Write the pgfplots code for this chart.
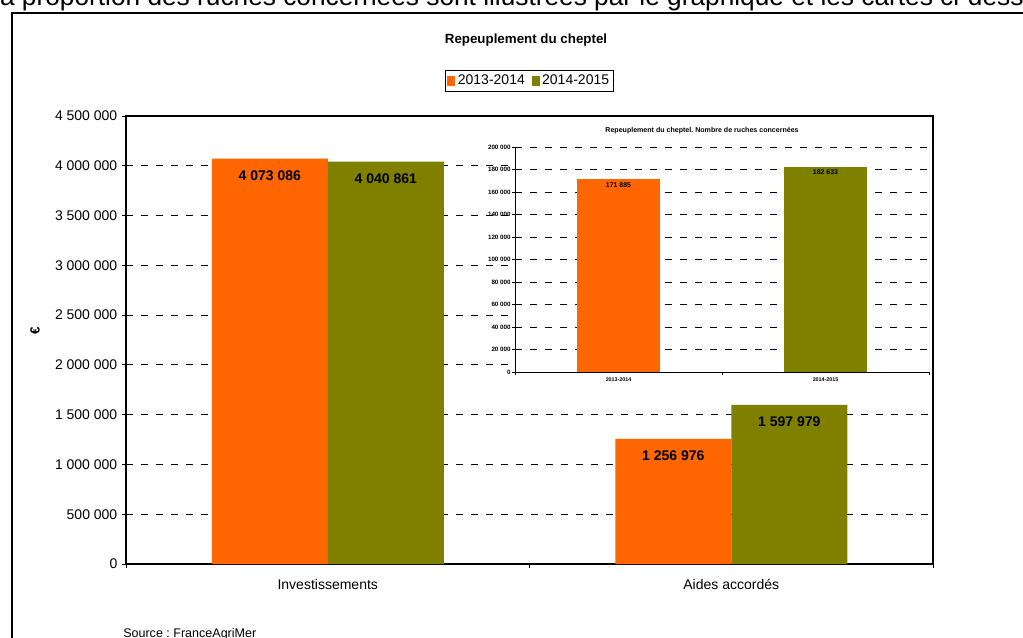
\documentclass[border=0pt]{standalone}
\usepackage{pgfplots}
\pgfplotsset{compat=1.18}
\usepackage{fontspec}
\setmainfont{Liberation Sans}
\frenchspacing
\definecolor{cOr}{HTML}{FF6600}
\definecolor{cOl}{HTML}{808000}
\begin{document}
\begin{tikzpicture}[x=0.75pt,y=0.75pt]
\path[use as bounding box] (0,0) rectangle (1023,637);
\clip (0,0) rectangle (1023,637);
\node[anchor=base west, inner sep=0, font=\fontsize{19.7}{24}\selectfont] at (-6,631.7) {la proportion des ruches concernées sont illustrées par le graphique et les cartes ci-dessous};
\draw[line width=1.3pt] (12,-20) -- (12,624.3) -- (1040,624.3);
\node[font=\bfseries\fontsize{10}{12}\selectfont] at (526,597) {Repeuplement du cheptel};
\node[font=\bfseries\fontsize{10}{12}\selectfont, rotate=90] at (35,306) {€};
\node[anchor=north west, inner sep=0, font=\fontsize{9.4}{11}\selectfont] at (123,9) {Source : FranceAgriMer};
\coordinate (mainSW) at (126,73);
\coordinate (insSW) at (515,265);
\begin{axis}[
 at={(mainSW)}, anchor=south west, scale only axis,
 width=605.25pt, height=336pt,
 ybar=0pt, bar width=87pt,
 xmin=-0.5, xmax=1.5, ymin=0, ymax=4500000,
 axis line style={black, line width=0.8pt},
 tick align=outside, major tick length=3pt,
 tick style={black, line width=0.75pt},
 xtick pos=lower, ytick pos=left,
 xtick={-0.5,0.5,1.5}, xticklabels={},
 extra x ticks={0,1}, extra x tick labels={Investissements,Aides accordés},
 extra x tick style={major tick length=0pt, xticklabel style={yshift=-8pt}},
 xticklabel style={font=\fontsize{10.5}{12}\selectfont},
 scaled y ticks=false,
 ytick={0,500000,1000000,1500000,2000000,2500000,3000000,3500000,4000000,4500000},
 yticklabels={0,500 000,1 000 000,1 500 000,2 000 000,2 500 000,3 000 000,3 500 000,4 000 000,4 500 000},
 yticklabel style={font=\fontsize{10.5}{12}\selectfont},
 ymajorgrids,
 major grid style={black, line width=0.75pt, dash pattern=on 5.25pt off 6pt},
 legend columns=2,
 legend style={at={(0.5,1.078)}, anchor=center, draw=black, line width=0.75pt,
   font=\fontsize{10.5}{12}\selectfont, inner sep=1.5pt,
   /tikz/every even column/.append style={column sep=3pt}},
 legend image code/.code={\fill[#1] (0pt,-3.5pt) rectangle (6pt,3.5pt);},
 nodes near coords, point meta=explicit symbolic,
 every node near coord/.append style={anchor=center, yshift=-12.75pt, font=\bfseries\fontsize{10.5}{12}\selectfont, black},
]
\addplot[fill=cOr, draw=none] coordinates {(0,4073086) [4 073 086] (1,1256976) [1 256 976]};
\addplot[fill=cOl, draw=none] coordinates {(0,4040861) [4 040 861] (1,1597979) [1 597 979]};
\legend{2013-2014,2014-2015}
\end{axis}
\begin{axis}[
 at={(insSW)}, anchor=south west, scale only axis,
 width=310.5pt, height=168.75pt,
 ybar, bar width=62.25pt,
 xmin=-0.5, xmax=1.5, ymin=0, ymax=200000,
 axis background/.style={fill=white},
 axis x line*=bottom, axis y line*=left,
 axis line style={black, line width=0.75pt},
 tick align=outside, major tick length=2.25pt,
 tick style={black, line width=0.6pt},
 xtick={-0.5,0.5,1.5}, xticklabels={},
 extra x ticks={0,1}, extra x tick labels={2013-2014,2014-2015},
 extra x tick style={major tick length=0pt, xticklabel style={yshift=-3pt}},
 xticklabel style={font=\bfseries\fontsize{4}{5}\selectfont, inner sep=1pt},
 scaled y ticks=false,
 ytick={0,20000,40000,60000,80000,100000,120000,140000,160000,180000,200000},
 yticklabels={0,20 000,40 000,60 000,80 000,100 000,120 000,140 000,160 000,180 000,200 000},
 yticklabel style={font=\bfseries\fontsize{4.7}{5.5}\selectfont, inner sep=0.8pt},
 ymajorgrids,
 major grid style={black, line width=0.75pt, dash pattern=on 5.25pt off 6pt},
 nodes near coords, point meta=explicit symbolic,
 every node near coord/.append style={anchor=center, yshift=-4.5pt, font=\bfseries\fontsize{5.2}{6}\selectfont, black},
]
\addplot[fill=cOr, draw=none, bar shift=0pt] coordinates {(0,171885) [171 885]};
\addplot[fill=cOl, draw=none, bar shift=0pt] coordinates {(1,182633) [182 633]};
\draw[gray!60, line width=0.75pt] (rel axis cs:1,0) -- (rel axis cs:1,1);
\end{axis}
\node[font=\bfseries\fontsize{5.3}{6}\selectfont] at (702,506.3) {Repeuplement du cheptel. Nombre de ruches concernées};
\end{tikzpicture}
\end{document}
